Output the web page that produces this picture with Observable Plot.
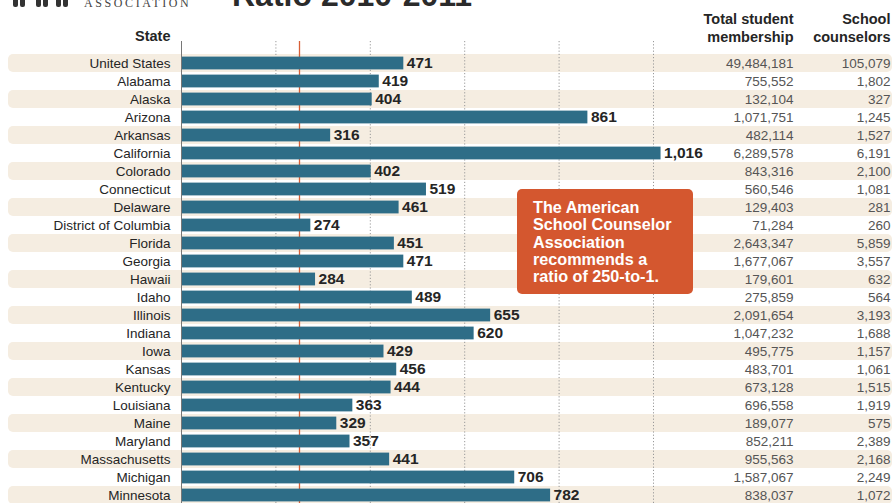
<!DOCTYPE html>
<html>
<head>
<meta charset="utf-8">
<script src="https://cdn.jsdelivr.net/npm/d3@7"></script>
<script src="https://cdn.jsdelivr.net/npm/@observablehq/plot@0.6"></script>
<style>
  html, body { margin: 0; padding: 0; background: #fff; width: 892px; height: 503px; overflow: hidden; }
  #wrap { position: relative; width: 892px; height: 503px; overflow: hidden; }
  #title { position: absolute; left: 232px; top: -23px; font: bold 32px "Liberation Sans", Arial, sans-serif; color: #2b2b2b; white-space: nowrap; }
  #assoc { position: absolute; left: 84px; top: -4px; font: 12px "Liberation Serif", serif; letter-spacing: 2.6px; color: #444; white-space: nowrap; }
  .icon { position: absolute; top: -3px; width: 5px; height: 10px; background: #333; border-radius: 2px; }
  #note { position: absolute; left: 517px; top: 189px; width: 176px; height: 105px; box-sizing: border-box; background: #d4572f; border-radius: 5px; padding: 10px 0 0 16px; color: #fff; font: bold 16.2px/17.3px "Liberation Sans", Arial, sans-serif; }
  svg { position: absolute; left: 0; top: 0; }
</style>
</head>
<body>
<div id="wrap">
  <div class="icon" style="left:13px"></div><div class="icon" style="left:20px"></div>
  <div class="icon" style="left:36px"></div><div class="icon" style="left:43px"></div>
  <div class="icon" style="left:56px"></div><div class="icon" style="left:63px"></div>
  <div id="assoc">ASSOCIATION</div>
  <div id="title">Ratio 2010-2011</div>
  <div id="chart"></div>
  <div id="note">The American<br>School Counselor<br>Association<br>recommends a<br>ratio of 250-to-1.</div>
</div>
<script>
const states = ["United States","Alabama","Alaska","Arizona","Arkansas","California","Colorado","Connecticut","Delaware","District of Columbia","Florida","Georgia","Hawaii","Idaho","Illinois","Indiana","Iowa","Kansas","Kentucky","Louisiana","Maine","Maryland","Massachusetts","Michigan","Minnesota"];
const ratios = [471,419,404,861,316,1016,402,519,461,274,451,471,284,489,655,620,429,456,444,363,329,357,441,706,782];
const membership = [49484181,755552,132104,1071751,482114,6289578,843316,560546,129403,71284,2643347,1677067,179601,275859,2091654,1047232,495775,483701,673128,696558,189077,852211,955563,1587067,838037];
const counselors = [105079,1802,327,1245,1527,6191,2100,1081,281,260,5859,3557,632,564,3193,1688,1157,1061,1515,1919,575,2389,2168,2249,1072];
const gridTicks = [200,400,600,800,1000];
const recommended = 250;

const data = states.map((s, i) => ({state: s, ratio: ratios[i], members: membership[i], counselors: counselors[i], i}));
const fmt = d3.format(",");
const FONT = '"Liberation Sans Narrow", "Liberation Sans", Arial, sans-serif';

const chart = Plot.plot({
  width: 892,
  height: 504,
  marginTop: 53,
  marginBottom: 0,
  marginLeft: 181,
  marginRight: 239,
  style: {fontFamily: FONT, background: "transparent", overflow: "visible"},
  x: {domain: [0, 1000], axis: null},
  y: {domain: states, padding: 0, axis: null},
  marks: [
    Plot.cell(data.filter(d => d.i % 2 === 0), {y: "state", fill: "#f5ede1", insetLeft: -173, insetRight: -239, rx: 5}),
    Plot.ruleX(gridTicks, {stroke: "#999", strokeDasharray: "1.2,2", strokeWidth: 1, insetTop: -12}),
    Plot.ruleX([recommended], {stroke: "#d85f36", strokeWidth: 1.3, insetTop: -12}),
    Plot.barX(data, {x: "ratio", y: "state", fill: "#2e6d87", insetTop: 2.6, insetBottom: 2.6}),
    Plot.ruleX([0], {stroke: "#777", strokeWidth: 1, insetTop: -12}),
    Plot.text(data, {x: "ratio", y: "state", text: d => fmt(d.ratio), dx: 3, textAnchor: "start", fontSize: 15.5, fontWeight: "bold", fill: "#252525"}),
    Plot.text(data, {y: "state", text: "state", frameAnchor: "left", dx: -11, textAnchor: "end", fontSize: 13.5, fill: "#252525"}),
    Plot.text(data, {y: "state", text: d => fmt(d.members), frameAnchor: "right", dx: 140, textAnchor: "end", fontSize: 13.5, fill: "#555"}),
    Plot.text(data, {y: "state", text: d => fmt(d.counselors), frameAnchor: "right", dx: 237, textAnchor: "end", fontSize: 13.5, fill: "#555"}),
    Plot.text(["State"], {frameAnchor: "top-left", lineAnchor: "middle", dx: -11, dy: -17, textAnchor: "end", fontSize: 14.5, fontWeight: "bold", fill: "#252525"}),
    Plot.text(["Total student\nmembership"], {frameAnchor: "top-right", lineAnchor: "middle", dx: 140, dy: -26, textAnchor: "end", lineHeight: 1.25, fontSize: 14.5, fontWeight: "bold", fill: "#252525"}),
    Plot.text(["School\ncounselors"], {frameAnchor: "top-right", lineAnchor: "middle", dx: 237, dy: -26, textAnchor: "end", lineHeight: 1.25, fontSize: 14.5, fontWeight: "bold", fill: "#252525"})
  ]
});
document.getElementById("chart").appendChild(chart);
</script>
</body>
</html>
